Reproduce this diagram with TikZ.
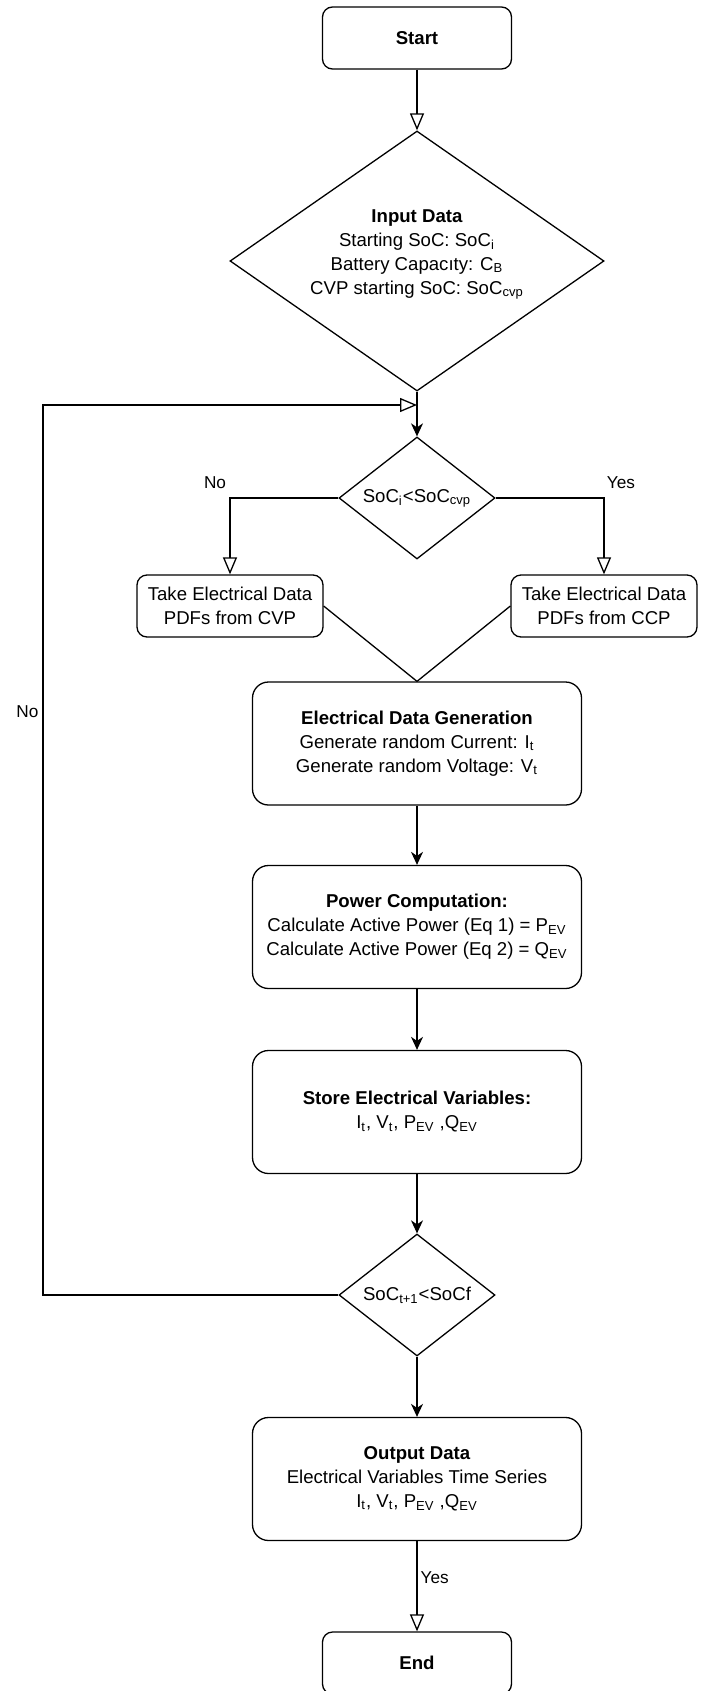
\documentclass[tikz,border=0pt]{standalone}
\usepackage{fontspec}
\setmainfont{Liberation Sans}
\usetikzlibrary{shapes.geometric,arrows.meta}
\newcommand{\low}[1]{\textsubscript{#1}}

\begin{document}
\begin{tikzpicture}[x=0.5pt, y=-0.5pt, line width=0.65pt,
    font=\fontsize{9.3}{12}\selectfont,
    openarr/.style={-{Triangle[open, length=8.5pt, width=7pt]}},
    fullarr/.style={-{Stealth[length=6.5pt, width=6pt, inset=2pt]}},
    term/.style={draw, rounded corners=5pt, minimum width=94.5pt, minimum height=31pt, font=\fontsize{9.3}{12}\selectfont\bfseries},
    proc/.style={draw, rounded corners=8pt, minimum width=164.5pt, minimum height=61.5pt, align=center},
    pick/.style={draw, rounded corners=5pt, minimum width=93pt, minimum height=31pt, align=center, inner sep=1pt},
    test/.style={draw, diamond, aspect=1.28, minimum width=78pt, minimum height=61pt, inner sep=0pt},
    tag/.style={font=\fontsize{8.6}{10}\selectfont, inner sep=0pt}]
    \useasboundingbox (0,0) rectangle (707,1691);

    % 1. Start and input data
    \node[term] (start) at (417,38) {Start};
    \node[draw, diamond, aspect=1.44, minimum width=187pt, minimum height=130pt, inner sep=0pt] (input) at (417,261) {};
    \node[align=center, inner sep=0pt] (inputtxt) at (417,254) {\textbf{Input Data}\\Starting SoC: SoC\low{i}\\Battery Capacıty: C\low{B}\\CVP starting SoC: SoC\low{cvp}};
    \coordinate (join) at (417,405);

    % 2. First decision and the two data sources
    \node[test] (soc1) at (417,498) {SoC\low{i}<SoC\low{cvp}};
    \node[pick] (cvp) at (230,606) {Take Electrical Data\\PDFs from CVP};
    \node[pick] (ccp) at (604,606) {Take Electrical Data\\PDFs from CCP};
    \node[tag] (no1) at (215,483) {No};
    \node[tag] (yes1) at (621,483) {Yes};

    % 3. Processing blocks
    \node[proc] (gen) at (417,743.5) {\textbf{Electrical Data Generation}\\Generate random Current: I\low{t}\\Generate random Voltage: V\low{t}};
    \node[proc] (pow) at (417,927) {\textbf{Power Computation:}\\Calculate Active Power (Eq 1) = P\low{EV}\\Calculate Active Power (Eq 2) = Q\low{EV}};
    \node[proc] (store) at (417,1112) {\textbf{Store Electrical Variables:}\\I\low{t}, V\low{t}, P\low{EV} ,Q\low{EV}};

    % 4. Second decision, output and end
    \node[test] (soc2) at (417,1295) {SoC\low{t+1}<SoCf};
    \coordinate (loop) at (43,1295);
    \node[tag, anchor=east] (no2) at (39,712) {No};
    \node[proc] (out) at (417,1479) {\textbf{Output Data}\\Electrical Variables Time Series\\I\low{t}, V\low{t}, P\low{EV} ,Q\low{EV}};
    \node[term] (stop) at (417,1663) {End};
    \node[tag, anchor=west] (yes2) at (420,1578) {Yes};

    % 5. Connectors
    \draw[openarr] (start) -- (input);
    \draw (input) -- (join);
    \draw[fullarr] (join) -- (soc1);
    \draw[openarr] (soc1.west) -| (cvp.north);
    \draw[openarr] (soc1.east) -| (ccp.north);
    \draw (cvp.east) -- (gen.north);
    \draw (ccp.west) -- (gen.north);
    \draw[fullarr] (gen) -- (pow);
    \draw[fullarr] (pow) -- (store);
    \draw[fullarr] (store) -- (soc2);
    \draw[openarr] (soc2.west) -- (loop) |- (join);
    \draw[fullarr] (soc2) -- (out);
    \draw[openarr] (out) -- (stop);

\end{tikzpicture}
\end{document}
